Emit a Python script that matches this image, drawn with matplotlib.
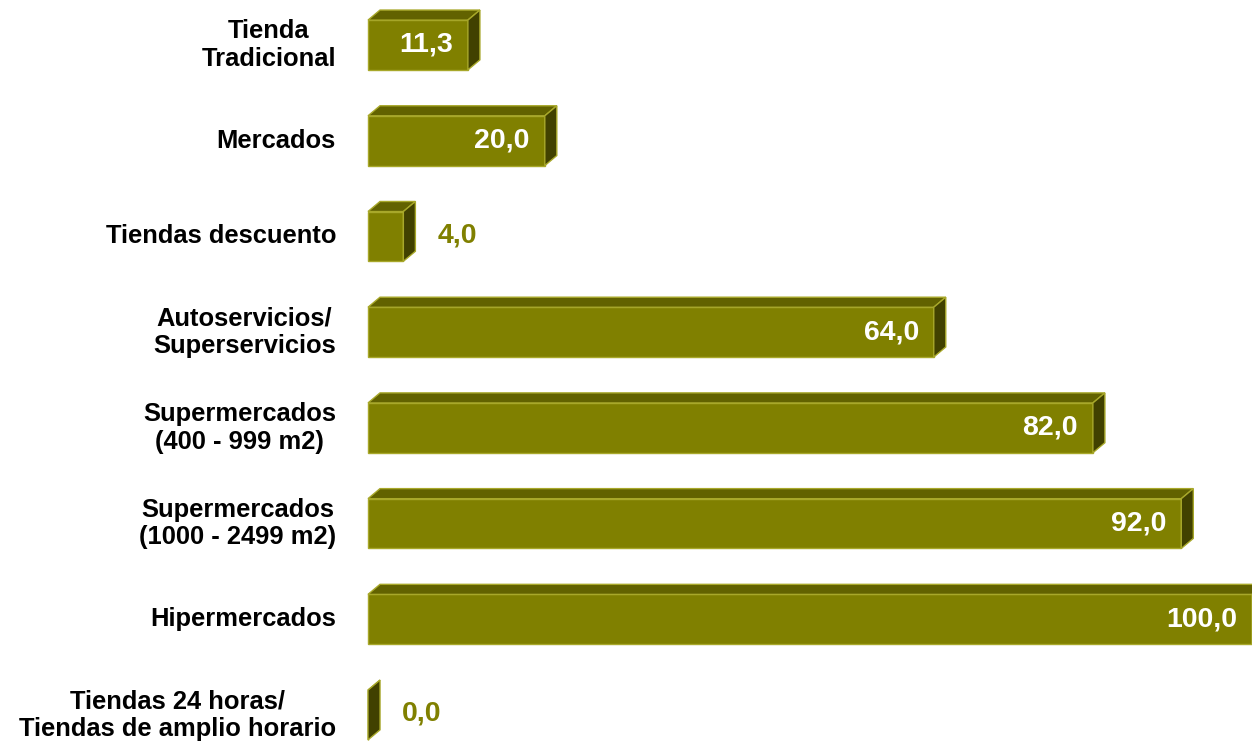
import matplotlib
matplotlib.use("Agg")
import matplotlib.pyplot as plt
from matplotlib.patches import Polygon
import matplotlib.transforms as mtransforms

plt.rcParams['font.family'] = ['Liberation Sans', 'DejaVu Sans']

categories = ["Tienda\nTradicional", "Mercados", "Tiendas descuento",
              "Autoservicios/\nSuperservicios", "Supermercados\n(400 - 999 m2)",
              "Supermercados\n(1000 - 2499 m2)", "Hipermercados",
              "Tiendas 24 horas/\nTiendas de amplio horario"]
values = [11.3, 20.0, 4.0, 64.0, 82.0, 92.0, 100.0, 0.0]
labels = ["11,3", "20,0", "4,0", "64,0", "82,0", "92,0", "100,0", "0,0"]

front = "#808000"
top_c = "#626200"
side_c = "#414100"
edge = "#A8A82A"

fig = plt.figure(figsize=(12.52, 7.48), dpi=100)
ax = fig.add_axes([368 / 1252, 0, 884 / 1252, 1])
ax.set_xlim(0, 100)
ax.set_ylim(7.345, -0.47)
ax.axis("off")

h = 0.52   # bar height
dx = 1.36  # depth offset in x
dy = 0.105 # depth offset in y

ys = list(range(len(values)))
ax.barh(ys, values, height=h, color=front, edgecolor=edge, linewidth=1, clip_on=False)

for y, v in zip(ys, values):
    t, b = y - h / 2, y + h / 2
    top = Polygon([(0, t), (v, t), (v + dx, t - dy), (dx, t - dy)],
                  closed=True, facecolor=top_c, edgecolor=edge, lw=1, clip_on=False)
    side = Polygon([(v, t), (v + dx, t - dy), (v + dx, b - dy), (v, b)],
                   closed=True, facecolor=side_c, edgecolor=edge, lw=1, clip_on=False)
    ax.add_patch(top)
    ax.add_patch(side)

for y, v, lab in zip(ys, values, labels):
    if v > 8:
        tr = mtransforms.offset_copy(ax.transData, fig=fig, x=-15, y=3, units="dots")
        ax.text(v, y, lab, transform=tr, ha="right", va="center_baseline", color="white",
                fontsize=20.5, fontweight="bold", clip_on=False)
    else:
        tr = mtransforms.offset_copy(ax.transData, fig=fig, x=34, y=4, units="dots")
        ax.text(v, y, lab, transform=tr, ha="left", va="center_baseline", color=front,
                fontsize=20.5, fontweight="bold", clip_on=False)

for y, cat in zip(ys, categories):
    tr = mtransforms.offset_copy(ax.transData, fig=fig, x=-32, y=0, units="dots")
    ax.text(0, y, cat, transform=tr, ha="right", va="center", multialignment="center",
            fontsize=18.4, fontweight="bold", color="black", clip_on=False)

fig.savefig("out.png", dpi=100)
